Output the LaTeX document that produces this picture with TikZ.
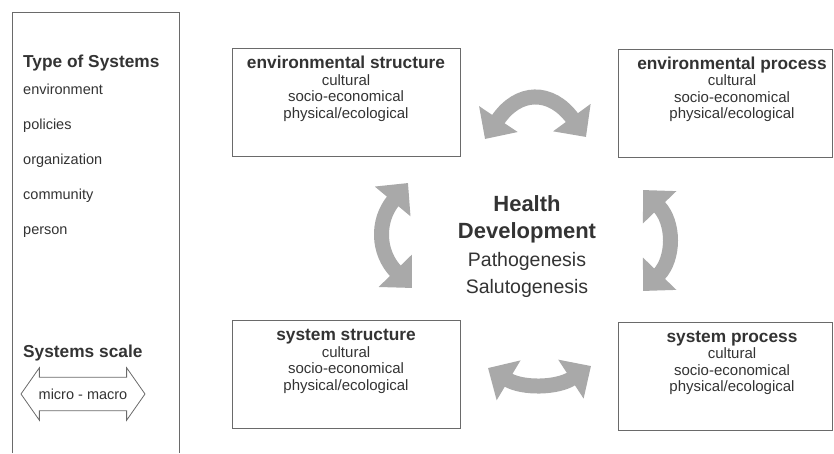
\documentclass[tikz,border=0pt]{standalone}
\usepackage{fontspec}
\setmainfont{Liberation Sans}
\usetikzlibrary{positioning,arrows.meta,shapes.arrows}

\definecolor{txtgray}{HTML}{333333}
\definecolor{linegray}{HTML}{6A6A6A}
\definecolor{arrowgray}{HTML}{A9A9A9}

\tikzset{
    sysbox/.style={draw=linegray, line width=0.9pt, minimum width=228pt, minimum height=108pt, inner sep=0pt},
    boxtext/.style={align=center, text=txtgray, inner sep=0pt, font=\fontsize{15}{16.5}\selectfont},
    listtext/.style={anchor=base west, text=txtgray, inner sep=0pt, font=\fontsize{14.5}{17}\selectfont},
    headtext/.style={anchor=base west, text=txtgray, inner sep=0pt, font=\fontsize{17.3}{20}\selectfont\bfseries},
    linkarrow/.style={arrowgray, line width=15pt, {Triangle[width=45pt,length=24pt]}-{Triangle[width=45pt,length=24pt]}}
}

\newcommand{\boxtitle}[1]{{\fontsize{17.3}{19}\selectfont\bfseries #1}}

\begin{document}
\begin{tikzpicture}[x=1pt, y=-1pt]
        \useasboundingbox (0,0) rectangle (834,453);

        % left panel
        \draw[linegray, line width=0.9pt] (12,453) -- (12,12.5) -- (179,12.5) -- (179,453);
        \node[headtext] (typehead) at (23,67) {Type of Systems};
        \node[listtext] (t1) at (23,94) {environment};
        \node[listtext] (t2) at (23,129) {policies};
        \node[listtext] (t3) at (23,164) {organization};
        \node[listtext] (t4) at (23,199) {community};
        \node[listtext] (t5) at (23,234) {person};
        \node[headtext] (scalehead) at (23,357) {Systems scale};
        \node[double arrow, draw=linegray, line width=0.8pt, text=txtgray,
              font=\fontsize{14.5}{17}\selectfont, minimum height=124pt,
              inner xsep=2pt, inner ysep=11pt, double arrow head extend=9.5pt,
              double arrow tip angle=110] (scale) at (83,394) {micro - macro};

        % boxes
        \node[sysbox] (envstr) at (346,102.5) {};
        \node[sysbox, minimum width=214pt] (envproc) at (725,103) {};
        \node[sysbox] (sysstr) at (346,374.5) {};
        \node[sysbox, minimum width=214pt] (sysproc) at (725,376) {};

        \node[boxtext, below=8pt of envstr.north] (envstrtxt)
            {\boxtitle{environmental structure}\\cultural\\socio-economical\\physical/ecological};
        \node[boxtext, below=8pt of envproc.north, xshift=7pt] (envproctxt)
            {\boxtitle{environmental process}\\cultural\\socio-economical\\physical/ecological};
        \node[boxtext, below=9pt of sysstr.north] (sysstrtxt)
            {\boxtitle{system structure}\\cultural\\socio-economical\\physical/ecological};
        \node[boxtext, below=9pt of sysproc.north, xshift=7pt] (sysproctxt)
            {\boxtitle{system process}\\cultural\\socio-economical\\physical/ecological};

        % centre
        \node[align=center, text=txtgray, inner sep=0pt, anchor=north,
              font=\fontsize{22}{27.5}\selectfont\bfseries] (health) at (527,195)
            {Health\\Development};
        \node[align=center, text=txtgray, inner sep=0pt, anchor=north,
              font=\fontsize{19.5}{27}\selectfont, below=9pt of health] (genesis)
            {Pathogenesis\\Salutogenesis};

        % curved arrows
        \coordinate (tl) at (485,139);
        \coordinate (tr) at (586,137);
        \coordinate (bl) at (488,368);
        \coordinate (br) at (591,366);
        \coordinate (lt) at (408,183);
        \coordinate (lb) at (412,288);
        \coordinate (rt) at (643,190);
        \coordinate (rb) at (643,291);

        \draw[linkarrow] (tl) to[bend left=55, looseness=1.5] (tr);
        \draw[linkarrow] (bl) to[bend right=32] (br);
        \draw[linkarrow] (lt) to[bend right=42, looseness=1.2] (lb);
        \draw[linkarrow] (rt) to[bend left=44, looseness=1.15] (rb);
\end{tikzpicture}
\end{document}
